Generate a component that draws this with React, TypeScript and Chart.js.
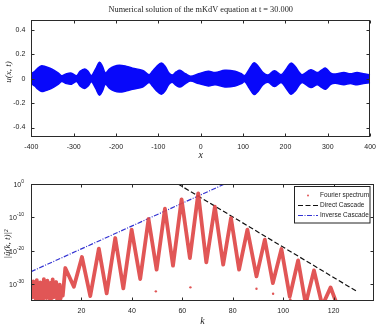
import React, { useEffect, useRef } from "react";
import { Chart, registerables } from "chart.js";

Chart.register(...registerables);

// ---------- data: top panel (envelope of u(x,t) band) ----------
const titleText = "Numerical solution of the mKdV equation at t = 30.000";
const envX = [
  -400, -392, -385, -379, -375, -368, -356, -345, -336, -328, -317, -305, -293, -285, -274, -266,
  -258, -248, -239, -232, -225, -215, -205, -192, -175, -161, -137, -122, -114, -104, -93, -84,
  -75, -67, -58, -49, -36, -24, -5, 18, 34, 57, 81, 96, 104, 115, 126, 136, 147, 159, 174, 190,
  202, 213, 223, 233, 240, 260, 275, 285, 295, 307, 318, 338, 353, 369, 384, 400,
];
const envAmp = [
  0.04, 0.06, 0.085, 0.1, 0.105, 0.1, 0.086, 0.065, 0.045, 0.024, 0.04, 0.045, 0.024, 0.06, 0.08, 0.06,
  0.025, 0.08, 0.135, 0.1, 0.046, 0.08, 0.1, 0.11, 0.1, 0.086, 0.068, 0.032, 0.06, 0.1, 0.128, 0.1,
  0.046, 0.03, 0.055, 0.068, 0.04, 0.02, 0.04, 0.06, 0.05, 0.068, 0.06, 0.04, 0.025, 0.08, 0.13, 0.1,
  0.05, 0.03, 0.065, 0.032, 0.08, 0.127, 0.1, 0.05, 0.032, 0.073, 0.05, 0.07, 0.086, 0.046, 0.038,
  0.05, 0.04, 0.05, 0.04, 0.032,
];
const topXTicks = [-400, -300, -200, -100, 0, 100, 200, 300, 400];
const topYTicks = [-0.4, -0.2, 0, 0.2, 0.4];

// ---------- data: bottom panel (spectrum, log10 values) ----------
const specK = [
  0.2, 0.55, 0.9, 1.25, 1.6, 1.95, 2.3, 2.65, 3.0, 3.35, 3.7, 4.05, 4.4, 4.75, 5.1, 5.45, 5.8, 6.15,
  6.5, 6.85, 7.2, 7.55, 7.9, 8.25, 8.6, 8.95, 9.3, 9.65, 10.0, 10.35, 10.7, 11.05, 11.4, 11.75, 12.1,
  12.6, 13.6, 17, 20.2, 23.5, 26.9, 30, 33.4, 36.6, 39.9, 43.3, 46.6, 49.8, 53.1, 56.3, 59.7, 63,
  66.3, 69.5, 72.9, 76.2, 79.3, 82.5, 85.8, 89.4, 92.7, 95.9, 99.3, 102.6, 105.9, 108.9, 112.2,
  115.5, 118.8, 121.5,
];
const specExp = [
  -30.5, -34, -29.2, -33, -31, -35, -28.8, -33.5, -30, -34.5, -29.5, -32.5, -30.8, -35, -28.5, -33,
  -30.2, -34.2, -29, -32.8, -30.5, -35, -29.6, -33.4, -28.6, -34, -30.8, -33, -29.4, -34.6, -31,
  -33.8, -30.2, -34.4, -31.5, -33.5, -25.2, -30.8, -21.9, -33.6, -19.4, -32.8, -16.2, -31.3, -13.7,
  -28.5, -10.5, -25.7, -7.4, -24.5, -4.6, -22.2, -2.8, -23.5, -6.8, -24.2, -10.2, -25.7, -13.7,
  -27.7, -16.7, -29.7, -19.5, -33.8, -22.9, -36, -25.9, -36.5, -31.0, -36.5,
];
const outlierK = [49.5, 63.2, 89.4, 96, 102.8, 109.5];
const outlierExp = [-32.2, -31, -31.4, -32.9, -34.6, -34.6];
const directK = [58.3, 129.4];
const directExp = [0, -32.3];
const inverseK = [0, 76.8];
const inverseExp = [-26.3, 0];
const botXTicks = [20, 40, 60, 80, 100, 120];
const botYExps = [-30, -20, -10, 0];
const legendLabels = ["Fourier spectrum", "Direct Cascade", "Inverse Cascade"];

const RED = "rgba(222,72,72,0.92)";
const BLUE_BAND = "rgb(8,8,250)";
const SANS = "'Liberation Sans', Arial, sans-serif";
const SERIF = "'Liberation Serif', 'DejaVu Serif', serif";

function frameAndTicks(chart: any) {
  const { ctx, chartArea: a, scales } = chart;
  const tl = 3;
  ctx.save();
  ctx.strokeStyle = "#2a2a2a";
  ctx.lineWidth = 1;
  const L = Math.round(a.left) + 0.5;
  const R = Math.round(a.right) - 0.5;
  const T = Math.round(a.top) + 0.5;
  const B = Math.round(a.bottom) - 0.5;
  ctx.strokeRect(L, T, R - L, B - T);
  ctx.beginPath();
  scales.x.ticks.forEach((t: any) => {
    const px = Math.round(scales.x.getPixelForValue(t.value)) + 0.5;
    ctx.moveTo(px, B);
    ctx.lineTo(px, B - tl);
    ctx.moveTo(px, T);
    ctx.lineTo(px, T + tl);
  });
  scales.y.ticks.forEach((t: any) => {
    const py = Math.round(scales.y.getPixelForValue(t.value)) + 0.5;
    ctx.moveTo(L, py);
    ctx.lineTo(L + tl, py);
    ctx.moveTo(R, py);
    ctx.lineTo(R - tl, py);
  });
  ctx.stroke();
  ctx.restore();
}

function TopChart() {
  const ref = useRef<HTMLCanvasElement>(null);
  useEffect(() => {
    const upper = envX.map((x, i) => ({ x, y: envAmp[i] }));
    const lower = envX.map((x, i) => ({ x, y: -envAmp[i] }));
    const plugin = {
      id: "topDecor",
      afterDatasetsDraw(chart: any) {
        frameAndTicks(chart);
      },
      afterDraw(chart: any) {
        const { ctx, chartArea: a } = chart;
        ctx.save();
        ctx.fillStyle = "#222";
        ctx.textAlign = "center";
        ctx.textBaseline = "middle";
        ctx.font = `8.3px ${SERIF}`;
        ctx.fillText(titleText, (a.left + a.right) / 2, 10);
        ctx.font = `italic 10px ${SERIF}`;
        ctx.fillText("x", (a.left + a.right) / 2, 155);
        ctx.translate(8.5, 72);
        ctx.rotate(-Math.PI / 2);
        ctx.font = `italic 9px ${SERIF}`;
        ctx.fillText("u(x, t)", 0, 0);
        ctx.restore();
      },
    };
    const chart = new Chart(ref.current!, {
      type: "line",
      data: {
        datasets: [
          {
            data: upper,
            borderColor: BLUE_BAND,
            backgroundColor: BLUE_BAND,
            borderWidth: 1.5,
            pointRadius: 0,
            tension: 0.35,
            fill: false,
          },
          {
            data: lower,
            borderColor: BLUE_BAND,
            backgroundColor: BLUE_BAND,
            borderWidth: 1.5,
            pointRadius: 0,
            tension: 0.35,
            fill: "-1",
          },
        ],
      },
      options: {
        responsive: false,
        animation: false,
        events: [],
        layout: { padding: { top: 20, right: 8, left: 0, bottom: 0 } },
        plugins: { legend: { display: false }, tooltip: { enabled: false } },
        scales: {
          x: {
            type: "linear",
            min: -400,
            max: 400,
            afterBuildTicks: (s: any) => {
              s.ticks = topXTicks.map((v) => ({ value: v }));
            },
            afterFit: (s: any) => {
              s.height = 26.3;
            },
            grid: { display: false, drawTicks: false },
            border: { display: false },
            ticks: {
              font: { family: SANS, size: 7 },
              color: "#222",
              padding: 6,
              maxRotation: 0,
              callback: (v: any) => String(v),
            },
          },
          y: {
            type: "linear",
            min: -0.475,
            max: 0.48,
            afterBuildTicks: (s: any) => {
              s.ticks = topYTicks.map((v) => ({ value: v }));
            },
            afterFit: (s: any) => {
              s.width = 31.3;
            },
            grid: { display: false, drawTicks: false },
            border: { display: false },
            ticks: {
              font: { family: SANS, size: 7 },
              color: "#222",
              padding: 6,
              callback: (v: any) => String(Math.round(Number(v) * 10) / 10),
            },
          },
        },
      },
      plugins: [plugin],
    });
    return () => chart.destroy();
  }, []);
  return <canvas ref={ref} width={382} height={163} style={{ display: "block" }} />;
}

function BottomChart() {
  const ref = useRef<HTMLCanvasElement>(null);
  useEffect(() => {
    const spec = specK.map((k, i) => ({ x: k, y: Math.pow(10, specExp[i]) }));
    const outl = outlierK.map((k, i) => ({ x: k, y: Math.pow(10, outlierExp[i]) }));
    const direct = directK.map((k, i) => ({ x: k, y: Math.pow(10, directExp[i]) }));
    const inverse = inverseK.map((k, i) => ({ x: k, y: Math.pow(10, inverseExp[i]) }));
    const plugin = {
      id: "botDecor",
      afterDatasetsDraw(chart: any) {
        frameAndTicks(chart);
      },
      afterDraw(chart: any) {
        const { ctx, chartArea: a, scales } = chart;
        ctx.save();
        ctx.fillStyle = "#222";
        scales.y.ticks.forEach((t: any) => {
          const py = scales.y.getPixelForValue(t.value);
          const e = Math.round(Math.log10(t.value));
          const es = String(e);
          ctx.font = `5px ${SANS}`;
          const ew = ctx.measureText(es).width;
          ctx.textBaseline = "alphabetic";
          ctx.textAlign = "left";
          const xr = a.left - 7;
          ctx.fillText(es, xr - ew, py - 1);
          ctx.font = `7px ${SANS}`;
          ctx.textAlign = "right";
          ctx.fillText("10", xr - ew, py + 3);
        });
        ctx.textAlign = "center";
        ctx.textBaseline = "middle";
        ctx.font = `italic 10px ${SERIF}`;
        ctx.fillText("k", (a.left + a.right) / 2, 158);
        ctx.save();
        ctx.translate(7.5, 81);
        ctx.rotate(-Math.PI / 2);
        ctx.font = `italic 9px ${SERIF}`;
        ctx.fillText("|û(k, t)|²", 0, 0);
        ctx.restore();
        // legend
        const bx = 294.5, by = 23.5, bw = 75.5, bh = 36.5;
        ctx.fillStyle = "#fff";
        ctx.fillRect(bx, by, bw, bh);
        ctx.strokeStyle = "#222";
        ctx.lineWidth = 1;
        ctx.strokeRect(bx, by, bw, bh);
        const rows = [32.5, 42.5, 52.5];
        ctx.fillStyle = RED;
        ctx.beginPath();
        ctx.arc(308, rows[0], 1, 0, Math.PI * 2);
        ctx.fill();
        ctx.lineWidth = 1.2;
        ctx.strokeStyle = "#111";
        ctx.setLineDash([5, 2.5]);
        ctx.beginPath();
        ctx.moveTo(298, rows[1]);
        ctx.lineTo(318, rows[1]);
        ctx.stroke();
        ctx.strokeStyle = "rgb(50,50,210)";
        ctx.setLineDash([5, 1.5, 1, 1.5]);
        ctx.beginPath();
        ctx.moveTo(298, rows[2]);
        ctx.lineTo(318, rows[2]);
        ctx.stroke();
        ctx.setLineDash([]);
        ctx.fillStyle = "#222";
        ctx.font = `6.5px ${SANS}`;
        ctx.textAlign = "left";
        ctx.textBaseline = "middle";
        legendLabels.forEach((lab, i) => ctx.fillText(lab, 320, rows[i]));
        ctx.restore();
      },
    };
    const chart = new Chart(ref.current!, {
      type: "line",
      data: {
        datasets: [
          {
            data: spec,
            borderColor: RED,
            borderWidth: 3.8,
            borderJoinStyle: "round",
            borderCapStyle: "round",
            pointRadius: 0,
            tension: 0,
            fill: false,
          },
          {
            data: outl,
            showLine: false,
            pointRadius: 1.2,
            pointBackgroundColor: RED,
            pointBorderWidth: 0,
          },
          {
            data: direct,
            borderColor: "#111",
            borderWidth: 1.2,
            borderDash: [5, 2.5],
            pointRadius: 0,
            fill: false,
          },
          {
            data: inverse,
            borderColor: "rgb(50,50,210)",
            borderWidth: 1.2,
            borderDash: [5, 1.5, 1, 1.5],
            pointRadius: 0,
            fill: false,
          },
        ],
      },
      options: {
        responsive: false,
        animation: false,
        events: [],
        layout: { padding: { top: 21, right: 8, left: 0, bottom: 0 } },
        plugins: { legend: { display: false }, tooltip: { enabled: false } },
        scales: {
          x: {
            type: "linear",
            min: 0,
            max: 136,
            afterBuildTicks: (s: any) => {
              s.ticks = botXTicks.map((v) => ({ value: v }));
            },
            afterFit: (s: any) => {
              s.height = 26.3;
            },
            grid: { display: false, drawTicks: false },
            border: { display: false },
            ticks: {
              font: { family: SANS, size: 7 },
              color: "#222",
              padding: 6,
              maxRotation: 0,
              callback: (v: any) => String(v),
            },
          },
          y: {
            type: "logarithmic",
            min: 1e-35,
            max: 1,
            afterBuildTicks: (s: any) => {
              s.ticks = botYExps.map((e) => ({ value: Math.pow(10, e) }));
            },
            afterFit: (s: any) => {
              s.width = 31;
            },
            grid: { display: false, drawTicks: false },
            border: { display: false },
            ticks: { display: false },
          },
        },
      },
      plugins: [plugin],
    });
    return () => chart.destroy();
  }, []);
  return <canvas ref={ref} width={382} height={164} style={{ display: "block" }} />;
}

export default function App() {
  return (
    <div style={{ position: "absolute", left: 0, top: 0, width: 382, height: 327, background: "#fff" }}>
      <TopChart />
      <BottomChart />
    </div>
  );
}
